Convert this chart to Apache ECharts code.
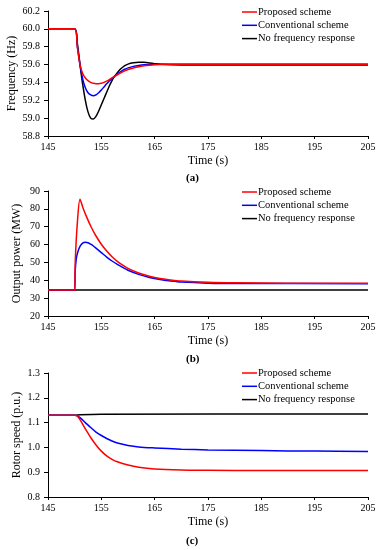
<!DOCTYPE html>
<html>
<head>
<meta charset="utf-8">
<script src="https://cdn.jsdelivr.net/npm/echarts@6/dist/echarts.min.js"></script>
<style>
html,body{margin:0;padding:0;background:#fff;}
#chart{width:384px;height:550px;}
</style>
</head>
<body>
<div id="chart"></div>
<script>
// ---- Data ----
var seriesNames = ['Proposed scheme', 'Conventional scheme', 'No frequency response'];
var xTicks = [145, 155, 165, 175, 185, 195, 205];

// (a) Frequency
var freqTime = [145, 150, 150.5, 151, 151.5, 152, 152.5, 153, 153.5, 154, 154.5, 155, 155.5, 156, 156.5, 157, 157.5, 158, 158.5, 159, 159.5, 160, 161, 162, 163, 164, 165, 166, 168, 170, 175, 185, 195, 205];
var freqProposed = [60.0, 60.0, 59.8, 59.6, 59.5, 59.45, 59.42, 59.40, 59.39, 59.385, 59.385, 59.39, 59.40, 59.415, 59.432, 59.45, 59.468, 59.486, 59.503, 59.518, 59.532, 59.544, 59.562, 59.576, 59.586, 59.593, 59.598, 59.601, 59.604, 59.605, 59.605, 59.605, 59.605, 59.605];
var freqConventional = [60.0, 60.0, 59.8, 59.6, 59.44, 59.34, 59.285, 59.26, 59.25, 59.26, 59.285, 59.315, 59.35, 59.385, 59.415, 59.445, 59.47, 59.495, 59.515, 59.535, 59.55, 59.563, 59.58, 59.59, 59.597, 59.601, 59.603, 59.604, 59.605, 59.605, 59.605, 59.605, 59.605, 59.605];
var freqNoResponse = [60.0, 60.0, 59.84, 59.6, 59.38, 59.2, 59.07, 59.0, 58.99, 59.02, 59.08, 59.15, 59.22, 59.29, 59.36, 59.42, 59.47, 59.51, 59.545, 59.57, 59.59, 59.605, 59.62, 59.627, 59.625, 59.618, 59.61, 59.603, 59.598, 59.596, 59.595, 59.595, 59.595, 59.595];
var freqTicks = [58.8, 59.0, 59.2, 59.4, 59.6, 59.8, 60.0, 60.2];

// (b) Output power
var powerTimeProposed = [145, 150, 150.1, 150.5, 151, 151.5, 152, 153, 154, 155, 156, 157, 158, 159, 160, 162, 164, 166, 168, 170, 175, 180, 190, 205];
var powerProposed = [34.5, 34.5, 50, 72, 85.4, 81.1, 77.2, 70.4, 64.8, 60.2, 56.4, 53.2, 50.6, 48.5, 46.7, 44.1, 42.3, 41.0, 40.2, 39.6, 38.9, 38.6, 38.4, 38.4];
var powerTimeConventional = [145, 150, 150.1, 150.3, 150.6, 151, 151.5, 152, 152.5, 153, 153.5, 154, 155, 156, 157, 158, 159, 160, 162, 164, 166, 168, 170, 175, 180, 205];
var powerConventional = [34.5, 34.5, 45, 52, 56, 59, 60.8, 61.3, 61.0, 60.2, 59.2, 58.0, 55.5, 53.0, 50.8, 48.9, 47.2, 45.6, 43.3, 41.6, 40.4, 39.6, 39.0, 38.4, 38.2, 38.1];
var powerTimeNoResponse = [145, 150, 205];
var powerNoResponse = [34.5, 34.5, 34.6];
var powerTicks = [20, 30, 40, 50, 60, 70, 80, 90];

// (c) Rotor speed
var speedTimeProposed = [145, 150, 150.5, 151, 152, 153, 154, 155, 156, 157, 158, 160, 162, 165, 170, 175, 185, 205];
var speedProposed = [1.13, 1.13, 1.126, 1.112, 1.075, 1.04, 1.01, 0.985, 0.966, 0.952, 0.942, 0.929, 0.92, 0.913, 0.909, 0.908, 0.907, 0.907];
var speedTimeConventional = [145, 150, 150.5, 151, 152, 153, 154, 155, 156, 157, 158, 160, 162, 165, 170, 175, 185, 195, 205];
var speedConventional = [1.13, 1.13, 1.128, 1.12, 1.1, 1.08, 1.062, 1.048, 1.036, 1.026, 1.018, 1.008, 1.002, 0.998, 0.993, 0.99, 0.987, 0.985, 0.983];
var speedTimeNoResponse = [145, 150, 151, 155, 205];
var speedNoResponse = [1.13, 1.13, 1.132, 1.134, 1.135];
var speedTicks = [0.8, 0.9, 1.0, 1.1, 1.2, 1.3];

// ---- Build ----
function pairs(t, v) { return t.map(function (x, i) { return [x, v[i]]; }); }
var colors = ['#ff0000', '#0000ff', '#000000'];
var FONT = 'Liberation Serif';

var grids = [
  { left: 48, top: 11, width: 320, height: 125, containLabel: false, outerBoundsMode: 'none' },
  { left: 48, top: 191, width: 320, height: 125, containLabel: false, outerBoundsMode: 'none' },
  { left: 48, top: 373, width: 320, height: 124, containLabel: false, outerBoundsMode: 'none' }
];
var yConf = [
  { min: 58.8, max: 60.2, ticks: freqTicks, name: 'Frequency (Hz)', dec: 1, gap: 30 },
  { min: 20, max: 90, ticks: powerTicks, name: 'Output power (MW)', dec: 0, gap: 25 },
  { min: 0.8, max: 1.3, ticks: speedTicks, name: 'Rotor speed (p.u.)', dec: 1, gap: 25 }
];
var axisLineStyle = { color: '#000', width: 1 };

var xAxes = grids.map(function (g, i) {
  return {
    type: 'value', gridIndex: i, min: 145, max: 205,
    name: 'Time (s)', nameLocation: 'middle', nameGap: 19,
    nameTextStyle: { fontFamily: FONT, fontSize: 12, color: '#000' },
    axisLine: { show: true, lineStyle: axisLineStyle },
    axisTick: { show: true, length: 3, customValues: xTicks, lineStyle: axisLineStyle },
    axisLabel: { customValues: xTicks, fontFamily: FONT, fontSize: 10, color: '#000', margin: 6 },
    splitLine: { show: false }
  };
});
var yAxes = yConf.map(function (c, i) {
  return {
    type: 'value', gridIndex: i, min: c.min, max: c.max,
    name: c.name, nameLocation: 'middle', nameGap: c.gap, nameMoveOverlap: false,
    nameTextStyle: { fontFamily: FONT, fontSize: 12, color: '#000' },
    axisLine: { show: true, lineStyle: axisLineStyle },
    axisTick: { show: true, length: 4, customValues: c.ticks, lineStyle: axisLineStyle },
    axisLabel: {
      customValues: c.ticks, fontFamily: FONT, fontSize: 10, color: '#000', margin: 8,
      formatter: (function (d) { return function (v) { return Number(v).toFixed(d); }; })(c.dec)
    },
    splitLine: { show: false }
  };
});

function mk(name, idx, t, v, color) {
  return {
    name: name, type: 'line', xAxisIndex: idx, yAxisIndex: idx,
    data: pairs(t, v), symbol: 'none', showSymbol: false, smooth: 0.3,
    lineStyle: { color: color, width: 1.5 }, itemStyle: { color: color },
    animation: false, z: 3 - colors.indexOf(color)
  };
}
var series = [
  mk(seriesNames[2], 0, freqTime, freqNoResponse, colors[2]),
  mk(seriesNames[0], 0, freqTime, freqProposed, colors[0]),
  mk(seriesNames[1], 0, freqTime, freqConventional, colors[1]),
  mk(seriesNames[2], 1, powerTimeNoResponse, powerNoResponse, colors[2]),
  mk(seriesNames[0], 1, powerTimeProposed, powerProposed, colors[0]),
  mk(seriesNames[1], 1, powerTimeConventional, powerConventional, colors[1]),
  mk(seriesNames[2], 2, speedTimeNoResponse, speedNoResponse, colors[2]),
  mk(seriesNames[0], 2, speedTimeProposed, speedProposed, colors[0]),
  mk(seriesNames[1], 2, speedTimeConventional, speedConventional, colors[1])
];

var legendTops = [1.5, 181.5, 362.5];
var legends = legendTops.map(function (t) {
  return {
    data: seriesNames.map(function (n) { return { name: n, icon: 'rect' }; }),
    orient: 'vertical', left: 237, top: t,
    itemWidth: 15, itemHeight: 1.5, itemGap: 2.3,
    textStyle: { fontFamily: FONT, fontSize: 10.5, color: '#000', padding: [0, 0, 0, -4] },
    selectedMode: false
  };
});

var panelLabels = [['(a)', 179], ['(b)', 360], ['(c)', 542]];
var graphics = panelLabels.map(function (p) {
  return {
    type: 'text', left: 186, top: p[1] - 6,
    style: { text: p[0], fontFamily: FONT, fontSize: 11, fontWeight: 'bold', fill: '#000' }
  };
});

var chart = echarts.init(document.getElementById('chart'), null, { renderer: 'canvas' });
chart.setOption({
  backgroundColor: '#fff',
  animation: false,
  grid: grids,
  xAxis: xAxes,
  yAxis: yAxes,
  legend: legends,
  series: series,
  graphic: graphics
});
</script>
</body>
</html>
